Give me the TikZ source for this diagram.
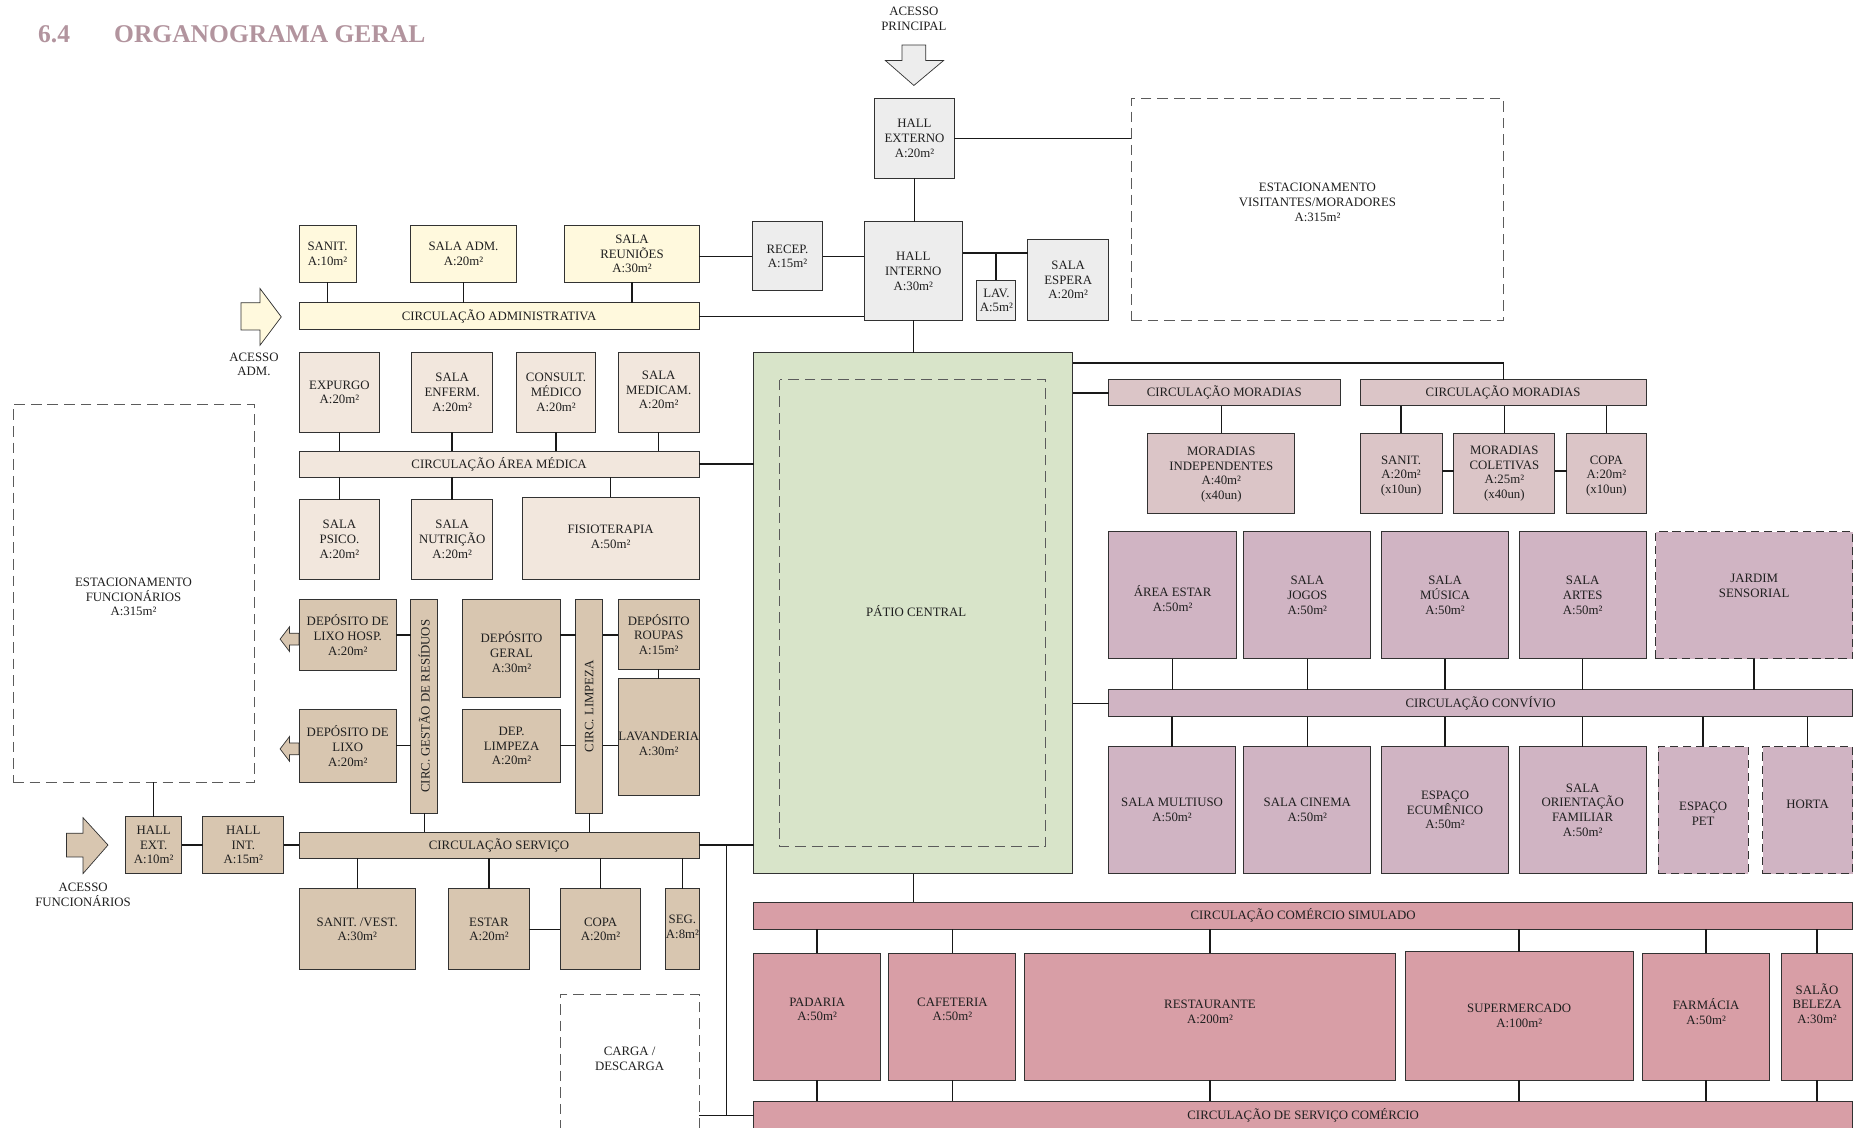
\documentclass[tikz,border=0pt]{standalone}
\usepackage{fontspec}
\setmainfont{Liberation Serif}
\definecolor{grayf}{RGB}{237,237,237}
\definecolor{admf}{RGB}{255,249,221}
\definecolor{medf}{RGB}{242,231,221}
\definecolor{srvf}{RGB}{216,198,176}
\definecolor{patf}{RGB}{216,228,201}
\definecolor{morf}{RGB}{219,197,199}
\definecolor{conf}{RGB}{208,180,195}
\definecolor{comf}{RGB}{216,158,166}
\definecolor{titc}{RGB}{178,148,158}
\definecolor{edgec}{RGB}{50,50,50}
\newcommand\rbox[8][]{%
  \node[#7, minimum width={(#5-#3)*1pt}, minimum height={(#6-#4)*1pt}, anchor=north west] (#2) at (#3,#4) {};
  \node[txt,#1] (#2-t) at (#2.center) {#8};}
\begin{document}
\begin{tikzpicture}[x=1pt,y=-1pt,
  bx/.style={draw=edgec, line width=0.8pt, inner sep=0pt, outer sep=0pt},
  gbox/.style={bx, fill=grayf},
  abox/.style={bx, fill=admf},
  mbox/.style={bx, fill=medf},
  sbox/.style={bx, fill=srvf},
  pbox/.style={bx, fill=patf},
  mobox/.style={bx, fill=morf},
  cbox/.style={bx, fill=conf},
  cobox/.style={bx, fill=comf},
  dashbox/.style={draw=edgec!80, line width=0.8pt, dash pattern=on 9pt off 5pt, inner sep=0pt, outer sep=0pt},
  cdash/.style={fill=conf, inner sep=0pt, outer sep=0pt, draw=edgec, line width=0.8pt, dash pattern=on 7pt off 4pt,
     preaction={draw=white, line width=0.8pt, solid}},
  txt/.style={font=\fontsize{10.8}{12.4}\selectfont, align=center, inner sep=0pt, text=black!88},
  ln/.style={line width=1.2pt, black!90},
  arr/.style={draw=edgec, line width=0.6pt, line join=miter}]
\useasboundingbox (0,0) rectangle (1568,950);
\clip (0,0) rectangle (1568,950);

% title
\node[anchor=base west, font=\fontsize{21.5}{26}\selectfont\bfseries, text=titc, inner sep=0pt] (tnum) at (32,36) {6.4};
\node[anchor=base west, font=\fontsize{21.5}{26}\selectfont\bfseries, text=titc, inner sep=0pt] (ttl) at (96,36) {ORGANOGRAMA GERAL};

% access labels
\node[txt] (accp) at (770,16) {ACESSO\\PRINCIPAL};
\node[txt] (acca) at (214,307) {ACESSO\\ADM.};
\node[txt] (accf) at (70,754) {ACESSO\\FUNCIONÁRIOS};

% arrows
\filldraw[arr, fill=grayf] (760,38) -- (780,38) -- (780,51) -- (795,51) -- (770,72) -- (746,51) -- (760,51) -- cycle;
\filldraw[arr, fill=admf] (203,255) -- (219,255) -- (219,243) -- (237,267) -- (219,291) -- (219,278) -- (203,278) -- cycle;
\filldraw[arr, fill=srvf] (56,702) -- (70,702) -- (70,689) -- (91,712) -- (70,736) -- (70,722) -- (56,722) -- cycle;
\filldraw[arr, fill=srvf] (252,533.5) -- (244,533.5) -- (244,528) -- (236,538.5) -- (244,549) -- (244,543.5) -- (252,543.5) -- cycle;
\filldraw[arr, fill=srvf] (252,626) -- (244,626) -- (244,620.5) -- (236,631) -- (244,641.5) -- (244,636) -- (252,636) -- cycle;

% top / reception
\rbox{hex}{737}{83}{804}{150}{gbox}{HALL\\EXTERNO\\A:20m²}
\rbox[yshift=6pt]{evis}{953}{83}{1267}{270}{dashbox}{ESTACIONAMENTO\\VISITANTES/MORADORES\\A:315m²}
\rbox{hin}{728}{187}{811}{270}{gbox}{HALL\\INTERNO\\A:30m²}
\rbox{recep}{634}{187}{693}{245}{gbox}{RECEP.\\A:15m²}
\rbox{lav}{823}{236}{856}{270}{gbox}{LAV.\\A:5m²}
\rbox{sesp}{866}{202}{934}{270}{gbox}{SALA\\ESPERA\\A:20m²}

% admin
\rbox{asan}{252}{190}{300}{238}{abox}{SANIT.\\A:10m²}
\rbox{aadm}{346}{190}{435}{238}{abox}{SALA ADM.\\A:20m²}
\rbox{areu}{476}{190}{589}{238}{abox}{SALA\\REUNIÕES\\A:30m²}
\rbox{cadm}{252}{255}{589}{278}{abox}{CIRCULAÇÃO ADMINISTRATIVA}

% medical
\rbox{expu}{252}{297}{320}{364}{mbox}{EXPURGO\\A:20m²}
\rbox{enf}{347}{297}{415}{364}{mbox}{SALA\\ENFERM.\\A:20m²}
\rbox{cons}{435}{297}{502}{364}{mbox}{CONSULT.\\MÉDICO\\A:20m²}
\rbox[yshift=2pt]{medc}{521}{297}{589}{364}{mbox}{SALA\\MEDICAM.\\A:20m²}
\rbox{cam}{252}{380}{589}{402}{mbox}{CIRCULAÇÃO ÁREA MÉDICA}
\rbox{psi}{252}{421}{320}{488}{mbox}{SALA\\PSICO.\\A:20m²}
\rbox{nut}{347}{421}{415}{488}{mbox}{SALA\\NUTRIÇÃO\\A:20m²}
\rbox[yshift=1pt]{fis}{440}{419}{589}{488}{mbox}{FISIOTERAPIA\\A:50m²}

% parking staff
\rbox[yshift=-3pt]{estf}{11}{341}{214}{659}{dashbox}{ESTACIONAMENTO\\FUNCIONÁRIOS\\A:315m²}

% service
\rbox{lxh}{252}{505}{334}{565}{sbox}{DEPÓSITO DE\\LIXO HOSP.\\A:20m²}
\rbox[rotate=90]{cg}{346}{505}{369}{685}{sbox}{CIRC. GESTÃO DE RESÍDUOS}
\rbox[yshift=-3pt]{dger}{390}{505}{472}{588}{sbox}{DEPÓSITO\\GERAL\\A:30m²}
\rbox[rotate=90]{cl}{485}{505}{508}{685}{sbox}{CIRC. LIMPEZA}
\rbox{rou}{521}{505}{589}{564}{sbox}{DEPÓSITO\\ROUPAS\\A:15m²}
\rbox[yshift=-6pt]{lavd}{521}{572}{589}{670}{sbox}{LAVANDERIA\\A:30m²}
\rbox{lx}{252}{598}{334}{659}{sbox}{DEPÓSITO DE\\LIXO\\A:20m²}
\rbox{dlim}{390}{598}{472}{659}{sbox}{DEP.\\LIMPEZA\\A:20m²}
\rbox{hext}{106}{688}{153}{736}{sbox}{HALL\\EXT.\\A:10m²}
\rbox{hint}{171}{688}{239}{736}{sbox}{HALL\\INT.\\A:15m²}
\rbox{cs}{252}{701}{589}{723}{sbox}{CIRCULAÇÃO SERVIÇO}
\rbox{sv}{252}{749}{350}{817}{sbox}{SANIT. /VEST.\\A:30m²}
\rbox{est}{378}{749}{446}{817}{sbox}{ESTAR\\A:20m²}
\rbox{cop}{472}{749}{540}{817}{sbox}{COPA\\A:20m²}
\rbox[yshift=2pt]{seg}{561}{749}{589}{817}{sbox}{SEG.\\A:8m²}
\rbox[yshift=7pt]{carga}{472}{838}{589}{960}{dashbox}{CARGA /\\DESCARGA}

% patio
\rbox{pat}{635}{297}{904}{736}{pbox}{}
\draw[dashbox] (657,320) rectangle (881,713);
\node[txt] (pat-l) at (772,515) {PÁTIO CENTRAL};

% moradias
\rbox{cm1}{934}{320}{1129}{342}{mobox}{CIRCULAÇÃO MORADIAS}
\rbox{cm2}{1146}{320}{1387}{342}{mobox}{CIRCULAÇÃO MORADIAS}
\rbox[yshift=-1pt]{mi}{967}{365}{1091}{433}{mobox}{MORADIAS\\INDEPENDENTES\\A:40m²\\(x40un)}
\rbox[yshift=-2pt]{msan}{1146}{365}{1215}{433}{mobox}{SANIT.\\A:20m²\\(x10un)}
\rbox{mcol}{1225}{365}{1310}{433}{mobox}{MORADIAS\\COLETIVAS\\A:25m²\\(x40un)}
\rbox[yshift=-2pt]{mcop}{1320}{365}{1387}{433}{mobox}{COPA\\A:20m²\\(x10un)}

% convivio
\rbox[yshift=-3pt]{ae}{934}{448}{1042}{555}{cbox}{ÁREA ESTAR\\A:50m²}
\rbox{jog}{1048}{448}{1155}{555}{cbox}{SALA\\JOGOS\\A:50m²}
\rbox{mus}{1164}{448}{1271}{555}{cbox}{SALA\\MÚSICA\\A:50m²}
\rbox{art}{1280}{448}{1387}{555}{cbox}{SALA\\ARTES\\A:50m²}
\rbox[yshift=8pt]{jar}{1395}{448}{1561}{555}{cdash}{JARDIM\\SENSORIAL}
\rbox{cc}{934}{581}{1561}{604}{cbox}{CIRCULAÇÃO CONVÍVIO}
\rbox{mul}{934}{629}{1041}{736}{cbox}{SALA MULTIUSO\\A:50m²}
\rbox{cin}{1048}{629}{1155}{736}{cbox}{SALA CINEMA\\A:50m²}
\rbox{ecu}{1164}{629}{1271}{736}{cbox}{ESPAÇO\\ECUMÊNICO\\A:50m²}
\rbox{ori}{1280}{629}{1387}{736}{cbox}{SALA\\ORIENTAÇÃO\\FAMILIAR\\A:50m²}
\rbox[yshift=-3pt]{pet}{1397}{629}{1473}{736}{cdash}{ESPAÇO\\PET}
\rbox[yshift=5pt]{hor}{1485}{629}{1561}{736}{cdash}{HORTA}

% comercio
\rbox{ccs}{635}{760}{1561}{783}{cobox}{CIRCULAÇÃO COMÉRCIO SIMULADO}
\rbox[yshift=6pt]{pad}{635}{803}{742}{910}{cobox}{PADARIA\\A:50m²}
\rbox[yshift=6pt]{caf}{749}{803}{856}{910}{cobox}{CAFETERIA\\A:50m²}
\rbox[yshift=4pt]{res}{863}{803}{1176}{910}{cobox}{RESTAURANTE\\A:200m²}
\rbox{sup}{1184}{802}{1376}{910}{cobox}{SUPERMERCADO\\A:100m²}
\rbox[yshift=4pt]{far}{1384}{803}{1491}{910}{cobox}{FARMÁCIA\\A:50m²}
\rbox[yshift=11pt]{sal}{1501}{803}{1561}{910}{cobox}{SALÃO\\BELEZA\\A:30m²}
\rbox[yshift=-1pt]{csc}{635}{928}{1561}{970}{cobox}{}
\node[txt] (csc-l) at (1098,940) {CIRCULAÇÃO DE SERVIÇO COMÉRCIO};

% ---------------- connectors
\draw[ln] (hex.south) -- (hex.south |- hin.north);
\draw[ln] (hex.east) -- (hex.east -| evis.west);
\draw[ln] (recep.west -| areu.east) -- (recep.west);
\draw[ln] (recep.east) -- (recep.east -| hin.west);
\draw[ln] (cadm.east) -- (cadm.east -| hin.west);
\coordinate (jlav) at (839,213);
\draw[ln] (jlav -| hin.east) -- (jlav -| sesp.west);
\draw[ln] (jlav) -- (jlav |- lav.north);
\draw[ln] (hin.south) -- (hin.south |- pat.north);
\foreach \s in {asan,aadm,areu} \draw[ln] (\s.south) -- (\s.south |- cadm.north);
\foreach \s in {expu,enf,cons,medc} \draw[ln] (\s.south) -- (\s.south |- cam.north);
\foreach \s in {psi,nut,fis} \draw[ln] (\s.north) -- (\s.north |- cam.south);
\draw[ln] (cam.east) -- (cam.east -| pat.west);

\coordinate (jr1) at (420,535);
\coordinate (jr2) at (420,628);
\draw[ln] (lxh.east |- jr1) -- (cg.west |- jr1);
\draw[ln] (dger.east |- jr1) -- (cl.west |- jr1);
\draw[ln] (cl.east |- jr1) -- (rou.west |- jr1);
\draw[ln] (rou.south) -- (rou.south |- lavd.north);
\draw[ln] (lx.east |- jr2) -- (cg.west |- jr2);
\draw[ln] (dlim.east |- jr2) -- (cl.west |- jr2);
\draw[ln] (cl.east |- jr2) -- (lavd.west |- jr2);
\draw[ln] (cg.south) -- (cg.south |- cs.north);
\draw[ln] (cl.south) -- (cl.south |- cs.north);
\draw[ln] (hext.north) -- (hext.north |- estf.south);
\draw[ln] (hext.east) -- (hint.west);
\draw[ln] (hint.east) -- (hint.east -| cs.west);
\draw[ln] (cs.east) -- (cs.east -| pat.west);
\foreach \s in {sv,est,cop,seg} \draw[ln] (\s.north) -- (\s.north |- cs.south);
\draw[ln] (est.east) -- (cop.west);
\coordinate (jsv) at (612,712);
\coordinate (jcs) at (612,940);
\draw[ln] (jsv) -- (jcs);
\draw[ln] (carga.east |- jcs) -- (jcs -| csc.west);

\coordinate (jm2) at (1267,306);
\draw[ln] (pat.east |- jm2) -- (jm2) -- (jm2 |- cm2.north);
\draw[ln] (cm1.west -| pat.east) -- (cm1.west);
\draw[ln] (cc.west -| pat.east) -- (cc.west);
\draw[ln] (pat.south) -- (pat.south |- ccs.north);
\draw[ln] (cm1.south -| mi.north) -- (mi.north);
\foreach \s in {msan,mcol,mcop} \draw[ln] (\s.north) -- (\s.north |- cm2.south);
\coordinate (jmo) at (1220,397);
\draw[ln] (msan.east |- jmo) -- (mcol.west |- jmo);
\draw[ln] (mcol.east |- jmo) -- (mcop.west |- jmo);

\foreach \s in {ae,jog,mus,art,jar} \draw[ln] (\s.south) -- (\s.south |- cc.north);
\foreach \s in {mul,cin,ecu,ori,pet,hor} \draw[ln] (\s.north) -- (\s.north |- cc.south);
\foreach \s in {pad,caf,res,sup,far,sal} {
  \draw[ln] (\s.north) -- (\s.north |- ccs.south);
  \draw[ln] (\s.south) -- (\s.south |- csc.north);
}
\end{tikzpicture}
\end{document}
